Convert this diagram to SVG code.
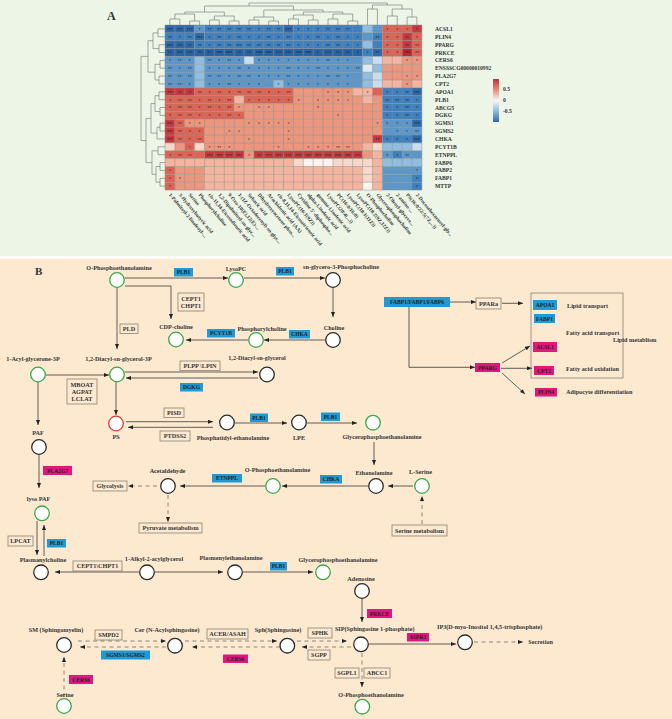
<svg xmlns="http://www.w3.org/2000/svg" width="672" height="719" viewBox="0 0 672 719">
<defs>
<marker id="ah" viewBox="0 0 10 8" refX="10" refY="4" markerWidth="5" markerHeight="4" markerUnits="userSpaceOnUse" orient="auto"><path d="M0,0 L10,4 L0,8 z" fill="#222"/></marker>
<linearGradient id="lg" x1="0" y1="0" x2="0" y2="1">
<stop offset="0" stop-color="#c2303a"/><stop offset="0.25" stop-color="#e88a74"/><stop offset="0.5" stop-color="#f8f6f4"/><stop offset="0.75" stop-color="#8dbade"/><stop offset="1" stop-color="#2e69a9"/>
</linearGradient>
</defs>
<style>
.lab{font-family:"Liberation Serif","DejaVu Serif",serif;font-weight:bold;font-size:6.2px;fill:#353535;text-anchor:middle}
.lft{text-anchor:start}
.et{font-family:"Liberation Serif","DejaVu Serif",serif;font-weight:bold;font-size:5.6px;fill:#222;text-anchor:middle}
.rl{font-family:"Liberation Serif","DejaVu Serif",serif;font-weight:bold;font-size:5.6px;fill:#333}
.cl{font-family:"Liberation Serif","DejaVu Serif",serif;font-weight:bold;font-size:5.2px;fill:#333}
.st{font-family:"Liberation Sans",Arial,sans-serif;font-size:5px;fill:#1a1a1a;fill-opacity:0.8;text-anchor:middle}
.ln{stroke:#3a3a3a;stroke-width:0.8;fill:none}
.dl{stroke:#707070;stroke-width:0.8;fill:none;stroke-dasharray:4 3.5}
.box{fill:none;stroke:#8a8075;stroke-width:0.8}
.bb{fill:#1e9bd7}
.pb{fill:#e2177e}
.ng{fill:#fff;stroke:#3aa84a;stroke-width:1.3}
.nk{fill:#fff;stroke:#2a2a2a;stroke-width:1.3}
.nr{fill:#fff;stroke:#e53a3a;stroke-width:1.3}
.dg{stroke:#707070;stroke-width:0.6;fill:none}
.DB{fill:#2e69a9}.B{fill:#3f80be}.MB{fill:#5d97c9}.LB{fill:#91bddf}.VLB{fill:#c8def0}
.W{fill:#fbf3f0}.VLR{fill:#f7d8cb}.LR{fill:#f3b59f}.S{fill:#eb967e}.R{fill:#dc6455}.DR{fill:#c63a3f}
</style>

<!-- backgrounds -->
<rect x="0" y="0" width="672" height="256" fill="#edf5e6"/>
<rect x="0" y="256" width="672" height="3" fill="#ffffff"/>
<rect x="0" y="259" width="672" height="460" fill="#fce9cf"/>

<!-- PANEL A -->
<g id="panelA">
<text x="107" y="20" font-family="Liberation Serif, serif" font-weight="bold" font-size="12" fill="#333">A</text>

<g id="heatmap" transform="translate(165,25) scale(9.88,7.86)">
<!-- row 0 -->
<rect class="DB" x="0" y="0" width="3" height="1"/><rect class="MB" x="3" y="0" width="1" height="1"/><rect class="B" x="4" y="0" width="8" height="1"/><rect class="DB" x="12" y="0" width="1" height="1"/><rect class="B" x="13" y="0" width="7" height="1"/><rect class="LB" x="20" y="0" width="1" height="1"/><rect class="MB" x="21" y="0" width="1" height="1"/><rect class="R" x="22" y="0" width="3" height="1"/><rect class="DR" x="25" y="0" width="1" height="1"/>
<!-- row 1 -->
<rect class="B" x="0" y="1" width="3" height="1"/><rect class="DB" x="3" y="1" width="1" height="1"/><rect class="B" x="4" y="1" width="16" height="1"/><rect class="MB" x="20" y="1" width="1" height="1"/><rect class="B" x="21" y="1" width="1" height="1"/><rect class="R" x="22" y="1" width="2" height="1"/><rect class="DR" x="24" y="1" width="1" height="1"/><rect class="R" x="25" y="1" width="1" height="1"/>
<!-- row 2 -->
<rect class="DB" x="0" y="2" width="3" height="1"/><rect class="B" x="3" y="2" width="17" height="1"/><rect class="LB" x="20" y="2" width="1" height="1"/><rect class="B" x="21" y="2" width="1" height="1"/><rect class="R" x="22" y="2" width="2" height="1"/><rect class="DR" x="24" y="2" width="1" height="1"/><rect class="R" x="25" y="2" width="1" height="1"/>
<!-- row 3 -->
<rect fill="#2a63a3" x="0" y="3" width="20" height="1"/><rect class="B" x="20" y="3" width="1" height="1"/><rect class="DB" x="21" y="3" width="1" height="1"/><rect class="R" x="22" y="3" width="2" height="1"/><rect fill="#b8282f" x="24" y="3" width="1" height="1"/><rect class="R" x="25" y="3" width="1" height="1"/>
<!-- row 4 -->
<rect class="MB" x="0" y="4" width="3" height="1"/><rect class="LB" x="3" y="4" width="1" height="1"/><rect class="MB" x="4" y="4" width="4" height="1"/><rect class="VLB" x="8" y="4" width="1" height="1"/><rect class="MB" x="9" y="4" width="11" height="1"/><rect class="LB" x="20" y="4" width="1" height="1"/><rect class="VLB" x="21" y="4" width="1" height="1"/><rect class="LR" x="22" y="4" width="2" height="1"/><rect class="S" x="24" y="4" width="2" height="1"/>
<!-- row 5 -->
<rect class="MB" x="0" y="5" width="3" height="1"/><rect class="LB" x="3" y="5" width="1" height="1"/><rect class="MB" x="4" y="5" width="16" height="1"/><rect fill="#dde9f3" x="20" y="5" width="1" height="1"/><rect class="LB" x="21" y="5" width="1" height="1"/><rect class="S" x="22" y="5" width="4" height="1"/>
<!-- row 6 -->
<rect class="MB" x="0" y="6" width="3" height="1"/><rect class="LB" x="3" y="6" width="1" height="1"/><rect class="MB" x="4" y="6" width="16" height="1"/><rect class="LB" x="20" y="6" width="1" height="1"/><rect class="VLB" x="21" y="6" width="1" height="1"/><rect class="S" x="22" y="6" width="4" height="1"/>
<!-- row 7 -->
<rect class="MB" x="0" y="7" width="3" height="1"/><rect class="LB" x="3" y="7" width="1" height="1"/><rect class="MB" x="4" y="7" width="7" height="1"/><rect class="LB" x="11" y="7" width="1" height="1"/><rect class="MB" x="12" y="7" width="8" height="1"/><rect class="LB" x="20" y="7" width="1" height="1"/><rect class="VLB" x="21" y="7" width="1" height="1"/><rect class="LR" x="22" y="7" width="2" height="1"/><rect class="S" x="24" y="7" width="1" height="1"/><rect class="LR" x="25" y="7" width="1" height="1"/>
<!-- row 8 -->
<rect class="DR" x="0" y="8" width="3" height="1"/><rect class="R" x="3" y="8" width="10" height="1"/><rect class="S" x="13" y="8" width="6" height="1"/><rect class="LR" x="19" y="8" width="2" height="1"/><rect class="R" x="21" y="8" width="1" height="1"/><rect class="B" x="22" y="8" width="3" height="1"/><rect class="DB" x="25" y="8" width="1" height="1"/>
<!-- row 9 -->
<rect class="R" x="0" y="9" width="7" height="1"/><rect class="LR" x="7" y="9" width="1" height="1"/><rect class="R" x="8" y="9" width="5" height="1"/><rect class="S" x="13" y="9" width="7" height="1"/><rect class="LR" x="20" y="9" width="1" height="1"/><rect class="S" x="21" y="9" width="1" height="1"/><rect class="B" x="22" y="9" width="4" height="1"/>
<!-- row 10 -->
<rect class="R" x="0" y="10" width="7" height="1"/><rect class="S" x="7" y="10" width="15" height="1"/><rect class="B" x="22" y="10" width="4" height="1"/>
<!-- row 11 -->
<rect class="R" x="0" y="11" width="8" height="1"/><rect class="S" x="8" y="11" width="14" height="1"/><rect class="B" x="22" y="11" width="4" height="1"/>
<!-- row 12 -->
<rect class="DR" x="0" y="12" width="1" height="1"/><rect class="R" x="1" y="12" width="1" height="1"/><rect class="S" x="2" y="12" width="20" height="1"/><rect class="MB" x="22" y="12" width="3" height="1"/><rect class="DB" x="25" y="12" width="1" height="1"/>
<!-- row 13 -->
<rect class="DR" x="0" y="13" width="1" height="1"/><rect class="R" x="1" y="13" width="3" height="1"/><rect class="S" x="4" y="13" width="18" height="1"/><rect class="MB" x="22" y="13" width="4" height="1"/>
<!-- row 14 -->
<rect class="DR" x="0" y="14" width="1" height="1"/><rect class="R" x="1" y="14" width="3" height="1"/><rect class="S" x="4" y="14" width="17" height="1"/><rect class="DR" x="21" y="14" width="1" height="1"/><rect class="B" x="22" y="14" width="3" height="1"/><rect class="DB" x="25" y="14" width="1" height="1"/>
<!-- row 15 -->
<rect class="VLR" x="0" y="15" width="1" height="1"/><rect class="S" x="1" y="15" width="1" height="1"/><rect class="R" x="2" y="15" width="1" height="1"/><rect class="VLR" x="3" y="15" width="1" height="1"/><rect class="S" x="4" y="15" width="16" height="1"/><rect class="LR" x="20" y="15" width="1" height="1"/><rect class="VLR" x="21" y="15" width="1" height="1"/><rect class="LB" x="22" y="15" width="3" height="1"/><rect class="VLB" x="25" y="15" width="1" height="1"/>
<!-- row 16 -->
<rect class="R" x="0" y="16" width="4" height="1"/><rect class="DR" x="4" y="16" width="4" height="1"/><rect class="S" x="8" y="16" width="1" height="1"/><rect class="DR" x="9" y="16" width="11" height="1"/><rect class="S" x="20" y="16" width="1" height="1"/><rect class="LR" x="21" y="16" width="1" height="1"/><rect class="MB" x="22" y="16" width="1" height="1"/><rect class="B" x="23" y="16" width="1" height="1"/><rect class="MB" x="24" y="16" width="2" height="1"/>
<!-- row 17 -->
<rect class="LR" x="0" y="17" width="13" height="1"/><rect class="VLR" x="13" y="17" width="1" height="1"/><rect class="W" x="14" y="17" width="3" height="1"/><rect class="VLR" x="17" y="17" width="4" height="1"/><rect class="LR" x="21" y="17" width="1" height="1"/><rect class="LB" x="22" y="17" width="4" height="1"/>
<!-- row 18 -->
<rect class="R" x="0" y="18" width="1" height="1"/><rect class="S" x="1" y="18" width="3" height="1"/><rect class="LR" x="4" y="18" width="16" height="1"/><rect class="VLR" x="20" y="18" width="1" height="1"/><rect class="LR" x="21" y="18" width="1" height="1"/><rect class="MB" x="22" y="18" width="4" height="1"/>
<!-- row 19 -->
<rect class="R" x="0" y="19" width="1" height="1"/><rect class="S" x="1" y="19" width="3" height="1"/><rect class="LR" x="4" y="19" width="16" height="1"/><rect class="VLR" x="20" y="19" width="1" height="1"/><rect class="LR" x="21" y="19" width="1" height="1"/><rect class="MB" x="22" y="19" width="3" height="1"/><rect class="B" x="25" y="19" width="1" height="1"/>
<!-- row 20 -->
<rect class="R" x="0" y="20" width="1" height="1"/><rect class="S" x="1" y="20" width="3" height="1"/><rect class="LR" x="4" y="20" width="16" height="1"/><rect class="W" x="20" y="20" width="1" height="1"/><rect class="LR" x="21" y="20" width="1" height="1"/><rect class="MB" x="22" y="20" width="3" height="1"/><rect class="B" x="25" y="20" width="1" height="1"/>
<path d="M0,0V21M1,0V21M2,0V21M3,0V21M4,0V21M5,0V21M6,0V21M7,0V21M8,0V21M9,0V21M10,0V21M11,0V21M12,0V21M13,0V21M14,0V21M15,0V21M16,0V21M17,0V21M18,0V21M19,0V21M20,0V21M21,0V21M22,0V21M23,0V21M24,0V21M25,0V21M26,0V21M0,0H26M0,1H26M0,2H26M0,3H26M0,4H26M0,5H26M0,6H26M0,7H26M0,8H26M0,9H26M0,10H26M0,11H26M0,12H26M0,13H26M0,14H26M0,15H26M0,16H26M0,17H26M0,18H26M0,19H26M0,20H26M0,21H26" stroke="#8f8f8f" stroke-width="0.5" fill="none" vector-effect="non-scaling-stroke"/>
</g>

<g id="stars">
<text class="st" y="31.8"><tspan x="169.9">***</tspan><tspan x="179.8">***</tspan><tspan x="189.7">***</tspan><tspan x="199.6">*</tspan><tspan x="209.5">**</tspan><tspan x="219.3">**</tspan><tspan x="229.2">**</tspan><tspan x="239.1">**</tspan><tspan x="249.0">**</tspan><tspan x="258.9">*</tspan><tspan x="268.7">**</tspan><tspan x="278.6">**</tspan><tspan x="288.5">***</tspan><tspan x="298.4">*</tspan><tspan x="308.3">*</tspan><tspan x="318.1">*</tspan><tspan x="328.0">**</tspan><tspan x="337.9">**</tspan><tspan x="347.8">**</tspan><tspan x="387.3">*</tspan><tspan x="397.2">*</tspan><tspan x="407.1">*</tspan><tspan x="416.9">*</tspan></text>
<text class="st" y="39.7"><tspan x="169.9">**</tspan><tspan x="179.8">*</tspan><tspan x="189.7">**</tspan><tspan x="199.6">***</tspan><tspan x="209.5">*</tspan><tspan x="219.3">**</tspan><tspan x="229.2">*</tspan><tspan x="239.1">**</tspan><tspan x="249.0">*</tspan><tspan x="258.9">*</tspan><tspan x="268.7">**</tspan><tspan x="278.6">*</tspan><tspan x="288.5">**</tspan><tspan x="298.4">*</tspan><tspan x="308.3">*</tspan><tspan x="318.1">**</tspan><tspan x="328.0">*</tspan><tspan x="337.9">**</tspan><tspan x="347.8">*</tspan><tspan x="357.7">*</tspan><tspan x="377.4">**</tspan><tspan x="387.3">*</tspan><tspan x="397.2">*</tspan><tspan x="407.1">**</tspan><tspan x="416.9">*</tspan></text>
<text class="st" y="47.6"><tspan x="169.9">***</tspan><tspan x="179.8">***</tspan><tspan x="189.7">**</tspan><tspan x="199.6">**</tspan><tspan x="209.5">*</tspan><tspan x="219.3">**</tspan><tspan x="229.2">**</tspan><tspan x="239.1">***</tspan><tspan x="249.0">**</tspan><tspan x="258.9">**</tspan><tspan x="268.7">**</tspan><tspan x="278.6">**</tspan><tspan x="288.5">**</tspan><tspan x="298.4">*</tspan><tspan x="308.3">*</tspan><tspan x="318.1">*</tspan><tspan x="328.0">**</tspan><tspan x="337.9">**</tspan><tspan x="347.8">*</tspan><tspan x="357.7">*</tspan><tspan x="387.3">*</tspan><tspan x="397.2">*</tspan><tspan x="407.1">**</tspan><tspan x="416.9">**</tspan></text>
<text class="st" y="55.4"><tspan x="169.9">**</tspan><tspan x="179.8">***</tspan><tspan x="189.7">***</tspan><tspan x="199.6">**</tspan><tspan x="209.5">**</tspan><tspan x="219.3">***</tspan><tspan x="229.2">***</tspan><tspan x="239.1">**</tspan><tspan x="249.0">**</tspan><tspan x="258.9">***</tspan><tspan x="268.7">***</tspan><tspan x="278.6">***</tspan><tspan x="288.5">***</tspan><tspan x="298.4">***</tspan><tspan x="308.3">***</tspan><tspan x="318.1">*</tspan><tspan x="328.0">***</tspan><tspan x="337.9">**</tspan><tspan x="347.8">**</tspan><tspan x="357.7">*</tspan><tspan x="367.5">*</tspan><tspan x="377.4">**</tspan><tspan x="387.3">*</tspan><tspan x="397.2">*</tspan><tspan x="407.1">***</tspan><tspan x="416.9">**</tspan></text>
<text class="st" y="63.3"><tspan x="169.9">*</tspan><tspan x="179.8">**</tspan><tspan x="189.7">*</tspan><tspan x="209.5">**</tspan><tspan x="219.3">*</tspan><tspan x="229.2">**</tspan><tspan x="239.1">*</tspan><tspan x="258.9">*</tspan><tspan x="268.7">*</tspan><tspan x="278.6">*</tspan><tspan x="288.5">*</tspan><tspan x="298.4">*</tspan><tspan x="308.3">*</tspan><tspan x="318.1">*</tspan><tspan x="328.0">**</tspan><tspan x="337.9">*</tspan><tspan x="347.8">*</tspan><tspan x="407.1">*</tspan><tspan x="416.9">*</tspan></text>
<text class="st" y="71.1"><tspan x="169.9">**</tspan><tspan x="179.8">*</tspan><tspan x="189.7">**</tspan><tspan x="209.5">*</tspan><tspan x="219.3">*</tspan><tspan x="229.2">*</tspan><tspan x="239.1">**</tspan><tspan x="249.0">*</tspan><tspan x="258.9">*</tspan><tspan x="268.7">*</tspan><tspan x="278.6">*</tspan><tspan x="288.5">**</tspan><tspan x="298.4">*</tspan><tspan x="308.3">*</tspan><tspan x="318.1">**</tspan><tspan x="328.0">*</tspan><tspan x="337.9">*</tspan><tspan x="347.8">*</tspan><tspan x="357.7">**</tspan></text>
<text class="st" y="79.0"><tspan x="169.9">**</tspan><tspan x="179.8">**</tspan><tspan x="189.7">**</tspan><tspan x="209.5">**</tspan><tspan x="219.3">**</tspan><tspan x="229.2">*</tspan><tspan x="239.1">**</tspan><tspan x="249.0">**</tspan><tspan x="258.9">*</tspan><tspan x="268.7">*</tspan><tspan x="278.6">*</tspan><tspan x="288.5">**</tspan><tspan x="298.4">*</tspan><tspan x="308.3">*</tspan><tspan x="318.1">*</tspan><tspan x="328.0">**</tspan><tspan x="337.9">**</tspan><tspan x="347.8">*</tspan><tspan x="407.1">*</tspan><tspan x="416.9">*</tspan></text>
<text class="st" y="86.8"><tspan x="169.9">**</tspan><tspan x="179.8">**</tspan><tspan x="189.7">*</tspan><tspan x="209.5">*</tspan><tspan x="219.3">*</tspan><tspan x="229.2">**</tspan><tspan x="239.1">*</tspan><tspan x="249.0">*</tspan><tspan x="258.9">*</tspan><tspan x="278.6">*</tspan><tspan x="288.5">*</tspan><tspan x="298.4">*</tspan><tspan x="308.3">*</tspan><tspan x="318.1">*</tspan><tspan x="328.0">*</tspan><tspan x="337.9">*</tspan><tspan x="347.8">*</tspan><tspan x="407.1">*</tspan></text>
<text class="st" y="94.7"><tspan x="169.9">***</tspan><tspan x="179.8">**</tspan><tspan x="189.7">**</tspan><tspan x="199.6">**</tspan><tspan x="209.5">*</tspan><tspan x="219.3">**</tspan><tspan x="229.2">*</tspan><tspan x="239.1">**</tspan><tspan x="249.0">**</tspan><tspan x="258.9">**</tspan><tspan x="268.7">*</tspan><tspan x="278.6">*</tspan><tspan x="288.5">**</tspan><tspan x="328.0">*</tspan><tspan x="337.9">*</tspan><tspan x="347.8">*</tspan><tspan x="367.5">*</tspan><tspan x="387.3">*</tspan><tspan x="397.2">*</tspan><tspan x="407.1">**</tspan><tspan x="416.9">***</tspan></text>
<text class="st" y="102.6"><tspan x="169.9">*</tspan><tspan x="179.8">**</tspan><tspan x="189.7">**</tspan><tspan x="199.6">*</tspan><tspan x="209.5">**</tspan><tspan x="219.3">*</tspan><tspan x="229.2">**</tspan><tspan x="249.0">*</tspan><tspan x="258.9">*</tspan><tspan x="268.7">*</tspan><tspan x="278.6">*</tspan><tspan x="288.5">*</tspan><tspan x="298.4">*</tspan><tspan x="318.1">*</tspan><tspan x="328.0">*</tspan><tspan x="337.9">*</tspan><tspan x="347.8">*</tspan><tspan x="387.3">**</tspan><tspan x="397.2">**</tspan><tspan x="407.1">**</tspan><tspan x="416.9">*</tspan></text>
<text class="st" y="110.4"><tspan x="169.9">*</tspan><tspan x="179.8">**</tspan><tspan x="189.7">**</tspan><tspan x="199.6">*</tspan><tspan x="209.5">**</tspan><tspan x="219.3">*</tspan><tspan x="229.2">**</tspan><tspan x="239.1">*</tspan><tspan x="258.9">*</tspan><tspan x="268.7">*</tspan><tspan x="318.1">*</tspan><tspan x="387.3">*</tspan><tspan x="397.2">*</tspan><tspan x="407.1">**</tspan><tspan x="416.9">*</tspan></text>
<text class="st" y="118.3"><tspan x="169.9">*</tspan><tspan x="179.8">**</tspan><tspan x="189.7">**</tspan><tspan x="199.6">*</tspan><tspan x="209.5">*</tspan><tspan x="219.3">*</tspan><tspan x="229.2">**</tspan><tspan x="239.1">*</tspan><tspan x="337.9">*</tspan><tspan x="387.3">*</tspan><tspan x="397.2">*</tspan><tspan x="407.1">**</tspan><tspan x="416.9">*</tspan></text>
<text class="st" y="126.1"><tspan x="169.9">***</tspan><tspan x="179.8">**</tspan><tspan x="189.7">*</tspan><tspan x="199.6">*</tspan><tspan x="249.0">*</tspan><tspan x="258.9">*</tspan><tspan x="268.7">*</tspan><tspan x="278.6">*</tspan><tspan x="288.5">*</tspan><tspan x="377.4">*</tspan><tspan x="387.3">*</tspan><tspan x="397.2">*</tspan><tspan x="407.1">*</tspan><tspan x="416.9">***</tspan></text>
<text class="st" y="134.0"><tspan x="169.9">***</tspan><tspan x="179.8">**</tspan><tspan x="189.7">*</tspan><tspan x="199.6">*</tspan><tspan x="229.2">*</tspan><tspan x="239.1">*</tspan><tspan x="288.5">*</tspan><tspan x="397.2">*</tspan><tspan x="407.1">*</tspan><tspan x="416.9">**</tspan></text>
<text class="st" y="141.9"><tspan x="169.9">***</tspan><tspan x="179.8">**</tspan><tspan x="189.7">*</tspan><tspan x="199.6">**</tspan><tspan x="249.0">*</tspan><tspan x="288.5">*</tspan><tspan x="377.4">**</tspan><tspan x="387.3">*</tspan><tspan x="397.2">*</tspan><tspan x="407.1">*</tspan><tspan x="416.9">***</tspan></text>
<text class="st" y="149.7"><tspan x="189.7">*</tspan><tspan x="209.5">*</tspan><tspan x="219.3">**</tspan><tspan x="229.2">*</tspan><tspan x="278.6">*</tspan><tspan x="308.3">*</tspan><tspan x="318.1">*</tspan><tspan x="328.0">*</tspan><tspan x="337.9">**</tspan><tspan x="347.8">**</tspan></text>
<text class="st" y="157.6"><tspan x="169.9">*</tspan><tspan x="179.8">**</tspan><tspan x="189.7">**</tspan><tspan x="209.5">***</tspan><tspan x="219.3">***</tspan><tspan x="229.2">***</tspan><tspan x="239.1">***</tspan><tspan x="249.0">*</tspan><tspan x="258.9">**</tspan><tspan x="268.7">***</tspan><tspan x="278.6">***</tspan><tspan x="288.5">***</tspan><tspan x="298.4">***</tspan><tspan x="308.3">***</tspan><tspan x="318.1">***</tspan><tspan x="328.0">***</tspan><tspan x="337.9">***</tspan><tspan x="347.8">***</tspan><tspan x="357.7">***</tspan><tspan x="387.3">*</tspan><tspan x="397.2">*</tspan><tspan x="407.1">**</tspan></text>
<text class="st" y="173.3"><tspan x="169.9">*</tspan><tspan x="416.9">*</tspan></text>
<text class="st" y="181.2"><tspan x="169.9">*</tspan><tspan x="179.8">*</tspan><tspan x="416.9">*</tspan></text>
<text class="st" y="189.0"><tspan x="169.9">*</tspan><tspan x="416.9">*</tspan></text>
</g>

<g id="dendro-top">
<path class="dg" d="M169.9,25V19H179.8V25M189.7,25V21H199.6V25M174.9,19V14H194.6V21M209.5,25V20H219.3V25M229.2,25V21H239.1V25M214.4,20V16H234.2V21M184.8,14V12H224.3V16M249.0,25V20H258.9V25M268.7,25V21H278.6V25M254.0,20V17H273.7V21M288.5,25V19H298.4V25M308.3,25V20H318.1V25M293.4,19V15H313.2V20M328.0,25V19H337.9V25M347.8,25V21H357.7V25M333.0,19V14H352.7V21M303.3,15V12H342.8V14M263.8,17V10H323.1V12M204.5,12V6H293.4V10M367.5,25V9H377.4V25M387.3,25V16H397.2V25M407.1,25V17H416.9V25M392.2,16V9H412.0V17M372.5,9V5H402.1V9M249.0,6V3H387.3V5"/>
</g>
<g id="dendro-left">
<path class="dg" d="M165,28.9H158V36.8H165M165,44.7H159V52.5H165M158,32.9H153V48.6H159M165,60.4H160V68.2H165M165,76.1H159V83.9H165M160,64.3H155V80.0H159M153,40.7H148V72.2H155M165,91.8H159V99.7H165M165,107.5H160V115.4H165M159,95.7H155V111.5H160M165,123.2H160V131.1H165M160,127.2H157V139.0H165M155,103.6H151V133.1H157M165,146.8H158V154.7H165M165,162.5H160V170.4H165M165,178.3H160V186.1H165M160,166.5H156V182.2H160M158,150.8H152V174.3H156M151,118.4H146V162.6H152M148,56.4H141V140.5H146"/>
</g>

<g id="row-labels">
<text class="rl" x="435" y="30.9">ACSL1</text>
<text class="rl" x="435" y="38.8">PLIN4</text>
<text class="rl" x="435" y="46.7">PPARG</text>
<text class="rl" x="435" y="54.5">PRKCE</text>
<text class="rl" x="435" y="62.4">CERS6</text>
<text class="rl" x="435" y="70.2">ENSSSCG00000010992</text>
<text class="rl" x="435" y="78.1">PLA2G7</text>
<text class="rl" x="435" y="85.9">CPT2</text>
<text class="rl" x="435" y="93.8">APOA1</text>
<text class="rl" x="435" y="101.7">PLB1</text>
<text class="rl" x="435" y="109.5">ABCG5</text>
<text class="rl" x="435" y="117.4">DGKG</text>
<text class="rl" x="435" y="125.2">SGMS1</text>
<text class="rl" x="435" y="133.1">SGMS2</text>
<text class="rl" x="435" y="141.0">CHKA</text>
<text class="rl" x="435" y="148.8">PCYT1B</text>
<text class="rl" x="435" y="156.7">ETNPPL</text>
<text class="rl" x="435" y="164.5">FABP6</text>
<text class="rl" x="435" y="172.4">FABP2</text>
<text class="rl" x="435" y="180.3">FABP1</text>
<text class="rl" x="435" y="188.1">MTTP</text>
</g>

<g id="col-labels">
<text class="cl" transform="translate(168.5,195) rotate(50)">1-Palmitoyl-2-linoleoyl-...</text>
<text class="cl" transform="translate(178.4,195) rotate(50)">3-Hydroxybutyric acid</text>
<text class="cl" transform="translate(188.3,195) rotate(50)">Serine</text>
<text class="cl" transform="translate(198.2,195) rotate(50)">Phosphorylcholine</text>
<text class="cl" transform="translate(208.1,195) rotate(50)">cis-11,14-Eicosadienoic acid</text>
<text class="cl" transform="translate(217.9,195) rotate(50)">1,2-Dipalmitoyl-sn-glyc...</text>
<text class="cl" transform="translate(227.8,195) rotate(50)">9-Oxo-10(E),12(E)-...</text>
<text class="cl" transform="translate(237.7,195) rotate(50)">1-(1Z-Octadecenyl)-sn-glyc...</text>
<text class="cl" transform="translate(247.6,195) rotate(50)">Sebacic acid</text>
<text class="cl" transform="translate(257.5,195) rotate(50)">Dihydroxyacetone phos...</text>
<text class="cl" transform="translate(267.3,195) rotate(50)">Arachidonic acid (AA)</text>
<text class="cl" transform="translate(277.2,195) rotate(50)">cis-8,11,14-Eicosatrienoic acid</text>
<text class="cl" transform="translate(287.1,195) rotate(50)">LysoPC(16:1(9Z))</text>
<text class="cl" transform="translate(297.0,195) rotate(50)">Cytidine 5'-diphospho...</text>
<text class="cl" transform="translate(306.9,195) rotate(50)">alpha-Linolenic acid</text>
<text class="cl" transform="translate(316.7,195) rotate(50)">gamma-Linolenic acid</text>
<text class="cl" transform="translate(326.6,195) rotate(50)">LysoPC(20:4(...))</text>
<text class="cl" transform="translate(336.5,195) rotate(50)">PC(16:0/16:0)</text>
<text class="cl" transform="translate(346.4,195) rotate(50)">LysoPC(18:1(11Z))</text>
<text class="cl" transform="translate(356.3,195) rotate(50)">LysoPC(18:2(9Z,12Z))</text>
<text class="cl" transform="translate(366.1,195) rotate(50)">O-Phosphocholine</text>
<text class="cl" transform="translate(376.0,195) rotate(50)">Glycerophosphocholine</text>
<text class="cl" transform="translate(385.9,195) rotate(50)">2-Oleoyl-glycero...</text>
<text class="cl" transform="translate(395.8,195) rotate(50)">2-amino-...</text>
<text class="cl" transform="translate(405.7,195) rotate(50)">PS(16:0/22:5(7Z,...))</text>
<text class="cl" transform="translate(415.5,195) rotate(50)">2-Docosahexaenoyl-gly...</text>
</g>

<g id="legend">
<rect x="493" y="79" width="6" height="43" fill="url(#lg)"/>
<text class="rl" x="503" y="91">0.5</text>
<text class="rl" x="503" y="102">0</text>
<text class="rl" x="503" y="113">-0.5</text>
</g>
</g>

<!-- PANEL B -->
<text x="35" y="274.5" font-family="Liberation Serif, serif" font-weight="bold" font-size="11" fill="#333">B</text>

<g id="connectors">
<path class="ln" d="M125,278H228" marker-end="url(#ah)"/>
<path class="ln" d="M244,278H325" marker-end="url(#ah)"/>
<path class="ln" d="M125,286H171V319" marker-end="url(#ah)"/>
<path class="ln" d="M117,288V349" marker-end="url(#ah)"/>
<path class="ln" d="M333,288V317" marker-end="url(#ah)"/>
<path class="ln" d="M325,340H264" marker-end="url(#ah)"/>
<path class="ln" d="M248,340H186" marker-end="url(#ah)"/>
<path class="ln" d="M46,375H109" marker-end="url(#ah)"/>
<path class="ln" d="M125,372H258" marker-end="url(#ah)"/>
<path class="ln" d="M258,378H126" marker-end="url(#ah)"/>
<path class="ln" d="M38,382V425" marker-end="url(#ah)"/>
<path class="ln" d="M116,382V415" marker-end="url(#ah)"/>
<path class="ln" d="M126,421.7H213" marker-end="url(#ah)"/>
<path class="ln" d="M213,427.3H128" marker-end="url(#ah)"/>
<path class="ln" d="M235,423H287" marker-end="url(#ah)"/>
<path class="ln" d="M307,423H357" marker-end="url(#ah)"/>
<path class="ln" d="M374,442V465" marker-end="url(#ah)"/>
<path class="ln" d="M413,486H388" marker-end="url(#ah)"/>
<path class="dl" d="M422,524V496" marker-end="url(#ah)"/>
<path class="ln" d="M368,486H282" marker-end="url(#ah)"/>
<path class="ln" d="M265,486H180" marker-end="url(#ah)"/>
<path class="dl" d="M157,486H128" marker-end="url(#ah)"/>
<path class="dl" d="M168,495V522" marker-end="url(#ah)"/>
<path class="ln" d="M39,455V488" marker-end="url(#ah)"/>
<path class="ln" d="M37,521V555" marker-end="url(#ah)"/>
<path class="ln" d="M44,556V525" marker-end="url(#ah)"/>
<path class="ln" d="M139,572H55" marker-end="url(#ah)"/>
<path class="ln" d="M155,572H223" marker-end="url(#ah)"/>
<path class="ln" d="M243,572H313" marker-end="url(#ah)"/>
<path class="ln" d="M362,599V622" marker-end="url(#ah)"/>
<path class="ln" d="M369,644H456" marker-end="url(#ah)"/>
<path class="dl" d="M474,642H523" marker-end="url(#ah)"/>
<path class="dl" d="M362,653V687" marker-end="url(#ah)"/>
<path class="dl" d="M78,641H166" marker-end="url(#ah)"/>
<path class="dl" d="M166,647H80" marker-end="url(#ah)"/>
<path class="dl" d="M185,641H277" marker-end="url(#ah)"/>
<path class="dl" d="M280,647H192" marker-end="url(#ah)"/>
<path class="dl" d="M297,641H347" marker-end="url(#ah)"/>
<path class="dl" d="M351,647H302" marker-end="url(#ah)"/>
<path class="dl" d="M64,697V657" marker-end="url(#ah)"/>
<path class="ln" d="M450,302H476" marker-end="url(#ah)"/>
<path class="ln" d="M502,303.3H523" marker-end="url(#ah)"/>
<path class="ln" d="M409,307V367.3H475" marker-end="url(#ah)"/>
<path class="ln" d="M502,363L530,346" marker-end="url(#ah)"/>
<path class="ln" d="M501,368.3H532" marker-end="url(#ah)"/>
<path class="ln" d="M502,373L525,394" marker-end="url(#ah)"/>
</g>

<!-- nodes -->
<g id="n-ophos-top"><circle class="ng" cx="117" cy="280" r="7.3"/><text class="lab" x="119" y="270">O-Phosphoethanolamine</text></g>
<g id="n-lysopc"><circle class="ng" cx="236" cy="280" r="7.3"/><text class="lab" x="236" y="270.5">LysoPC</text></g>
<g id="n-snglycero"><circle class="nk" cx="333" cy="280" r="7.3"/><text class="lab" x="341" y="269">sn-glycero-3-Phosphocholine</text></g>
<g id="n-cdpcholine"><circle class="ng" cx="176" cy="339.5" r="7.3"/><text class="lab" x="176" y="329">CDP-choline</text></g>
<g id="n-phosphorylcholine"><circle class="ng" cx="256" cy="340" r="7.3"/><text class="lab" x="262" y="330.5">Phosphorylcholine</text></g>
<g id="n-choline"><circle class="nk" cx="333" cy="340" r="7.3"/><text class="lab" x="334" y="330">Choline</text></g>
<g id="n-acylglycerone"><circle class="ng" cx="38" cy="374.5" r="7.3"/><text class="lab" x="33" y="360.5">1-Acyl-glycerone-3P</text></g>
<g id="n-dag3p"><circle class="ng" cx="117" cy="374.5" r="7.3"/><text class="lab" x="118.5" y="360.5">1,2-Diacyl-sn-glycerol-3P</text></g>
<g id="n-dag"><circle class="nk" cx="267" cy="374.5" r="7.3"/><text class="lab" x="257" y="360">1,2-Diacyl-sn-glycerol</text></g>
<g id="n-ps"><circle class="nr" cx="116" cy="423.5" r="7.3"/><text class="lab" x="116" y="439">PS</text></g>
<g id="n-pe"><circle class="nk" cx="227" cy="422.5" r="7.3"/><text class="lab" x="233" y="440">Phosphatidyl-ethanolamine</text></g>
<g id="n-lpe"><circle class="nk" cx="299" cy="422.5" r="7.3"/><text class="lab" x="299" y="440">LPE</text></g>
<g id="n-gpe-mid"><circle class="ng" cx="373" cy="422.7" r="7.3"/><text class="lab" x="382" y="439">Glycerophosphoethanolamine</text></g>
<g id="n-paf"><circle class="nk" cx="39" cy="447" r="7.3"/><text class="lab" x="38" y="434.5">PAF</text></g>
<g id="n-ethanolamine"><circle class="nk" cx="376" cy="486" r="7.3"/><text class="lab" x="374" y="475">Ethanolamine</text></g>
<g id="n-lserine"><circle class="ng" cx="422" cy="486" r="7.3"/><text class="lab" x="420.5" y="474">L-Serine</text></g>
<g id="n-ophos-mid"><circle class="ng" cx="273" cy="486" r="7.3"/><text class="lab" x="277.5" y="472">O-Phosphoethanolamine</text></g>
<g id="n-acetaldehyde"><circle class="nk" cx="168" cy="486" r="7.3"/><text class="lab" x="167.5" y="473">Acetaldehyde</text></g>
<g id="n-lysopaf"><circle class="ng" cx="42" cy="513.3" r="7.3"/><text class="lab" x="38.5" y="500.5">lyso PAF</text></g>
<g id="n-plasmanylcholine"><circle class="nk" cx="41" cy="572.3" r="7.3"/><text class="lab" x="43" y="561.5">Plasmanylcholine</text></g>
<g id="n-alkylacylglycerol"><circle class="nk" cx="147" cy="572.3" r="7.3"/><text class="lab" x="154" y="561">1-Alkyl-2-acylglycerol</text></g>
<g id="n-plasmenylethanolamine"><circle class="nk" cx="235" cy="572.3" r="7.3"/><text class="lab" x="231" y="560">Plasmenylethanolamine</text></g>
<g id="n-gpe-low"><circle class="ng" cx="323" cy="572.3" r="7.3"/><text class="lab" x="338" y="562">Glycerophosphoethanolamine</text></g>
<g id="n-adenosine"><circle class="nk" cx="362" cy="591" r="7.3"/><text class="lab" x="361" y="581">Adenosine</text></g>
<g id="n-sip"><circle class="nk" cx="361" cy="644.3" r="7.3"/><text class="lab" x="374.7" y="630.5">SIP(Sphingosine 1-phosphate)</text></g>
<g id="n-ip3"><circle class="nk" cx="465" cy="642.3" r="7.3"/><text class="lab" x="489.7" y="629">IP3(D-myo-Inositol 1,4,5-trisphosphate)</text></g>
<g id="n-secretion"><text class="lab lft" x="528.3" y="643.5">Secretion</text></g>
<g id="n-ophos-low"><circle class="ng" cx="362.3" cy="706.7" r="7.3"/><text class="lab" x="371" y="696.5">O-Phosphoethanolamine</text></g>
<g id="n-sm"><circle class="nk" cx="64" cy="645" r="7.3"/><text class="lab" x="56" y="632">SM (Sphingomyelin)</text></g>
<g id="n-cer"><circle class="nk" cx="175" cy="645.7" r="7.3"/><text class="lab" x="167" y="632">Cer (N-Acylsphingosine)</text></g>
<g id="n-sph"><circle class="nk" cx="287.3" cy="645.7" r="7.3"/><text class="lab" x="278" y="631.5">Sph(Sphingosine)</text></g>
<g id="n-serine"><circle class="ng" cx="64" cy="706" r="7.3"/><text class="lab" x="65" y="696.5">Serine</text></g>

<!-- enzyme boxes: blue -->
<g id="e-plb1-a"><rect class="bb" x="174" y="268" width="19" height="8.5"/><text class="et" x="183.5" y="274.3">PLB1</text></g>
<g id="e-plb1-b"><rect class="bb" x="276" y="267" width="18" height="8.5"/><text class="et" x="285" y="273.3">PLB1</text></g>
<g id="e-pcyt1b"><rect class="bb" x="207" y="329" width="28" height="8.5"/><text class="et" x="221" y="335.3">PCYT1B</text></g>
<g id="e-chka-a"><rect class="bb" x="289" y="330" width="21" height="8.5"/><text class="et" x="299.5" y="336.3">CHKA</text></g>
<g id="e-dgkg"><rect class="bb" x="180" y="383" width="23" height="8.5"/><text class="et" x="191.5" y="389.3">DGKG</text></g>
<g id="e-plb1-c"><rect class="bb" x="250" y="413.5" width="18" height="8.5"/><text class="et" x="259" y="419.8">PLB1</text></g>
<g id="e-plb1-d"><rect class="bb" x="321" y="412.5" width="19" height="8.5"/><text class="et" x="330.5" y="418.8">PLB1</text></g>
<g id="e-chka-b"><rect class="bb" x="320" y="475" width="22" height="8.5"/><text class="et" x="331" y="481.3">CHKA</text></g>
<g id="e-etnppl"><rect class="bb" x="212" y="474" width="30" height="8.5"/><text class="et" x="227" y="480.3">ETNPPL</text></g>
<g id="e-plb1-e"><rect class="bb" x="47" y="539" width="19" height="8.5"/><text class="et" x="56.5" y="545.3">PLB1</text></g>
<g id="e-plb1-f"><rect class="bb" x="270" y="562" width="17" height="8.5"/><text class="et" x="278.5" y="568.3">PLB1</text></g>
<g id="e-sgms"><rect class="bb" x="101" y="650.5" width="49" height="9"/><text class="et" x="125.5" y="657">SGMS1/SGMS2</text></g>
<g id="e-fabp"><rect class="bb" x="384" y="297" width="66" height="10"/><text class="et" x="417" y="304">FABP1/FABP1/FABP6</text></g>
<g id="e-apoa1"><rect class="bb" x="533" y="300" width="24" height="10"/><text class="et" x="545" y="307">APOA1</text></g>
<g id="e-fabp1"><rect class="bb" x="534" y="314" width="21" height="9"/><text class="et" x="544.5" y="320.5">FABP1</text></g>

<!-- enzyme boxes: pink -->
<g id="e-pla2g7"><rect class="pb" x="43" y="466" width="29" height="9"/><text class="et" x="57.5" y="472.5">PLA2G7</text></g>
<g id="e-prkce"><rect class="pb" x="367" y="609" width="25" height="9"/><text class="et" x="379.5" y="615.5">PRKCE</text></g>
<g id="e-s1pr3"><rect class="pb" x="407" y="633" width="22" height="8.5"/><text class="et" x="418" y="639.3">S1PR3</text></g>
<g id="e-cers6-a"><rect class="pb" x="223" y="654.5" width="25" height="8.5"/><text class="et" x="235.5" y="660.8">CERS6</text></g>
<g id="e-cers6-b"><rect class="pb" x="69" y="675" width="24" height="9"/><text class="et" x="81" y="681.5">CERS6</text></g>
<g id="e-acsl1"><rect class="pb" x="533" y="342" width="24" height="10"/><text class="et" x="545" y="349">ACSL1</text></g>
<g id="e-cpt2"><rect class="pb" x="534" y="366" width="20" height="9"/><text class="et" x="544" y="372.5">CPT2</text></g>
<g id="e-plin4"><rect class="pb" x="535" y="388" width="22" height="8.5"/><text class="et" x="546" y="394.3">PLIN4</text></g>
<g id="e-pparg"><rect class="pb" x="475" y="363" width="25" height="9"/><text class="et" x="487.5" y="369.5">PPARG</text></g>

<!-- plain boxes -->
<g id="e-cept1-chpt1"><rect class="box" x="178" y="293" width="26" height="18"/><text class="lab" x="191" y="300.5">CEPT1</text><text class="lab" x="191" y="308">CHPT1</text></g>
<g id="e-pld"><rect class="box" x="120" y="324" width="18" height="9.5"/><text class="lab" x="129" y="331">PLD</text></g>
<g id="e-plpp"><rect class="box" x="180" y="361" width="40" height="9.5"/><text class="lab" x="200" y="368">PLPP \LPIN</text></g>
<g id="e-mboat"><rect class="box" x="67" y="379" width="30" height="25"/><text class="lab" x="82" y="386.5">MBOAT</text><text class="lab" x="82" y="393.5">AGPAT</text><text class="lab" x="82" y="400.5">LCLAT</text></g>
<g id="e-pisd"><rect class="box" x="164" y="408" width="20" height="9.5"/><text class="lab" x="174" y="415">PISD</text></g>
<g id="e-ptdss2"><rect class="box" x="160" y="431" width="30" height="10"/><text class="lab" x="175" y="438.2">PTDSS2</text></g>
<g id="b-glycolysis"><rect class="box" x="93" y="481" width="34" height="10"/><text class="lab" x="110" y="488.2">Glycolysis</text></g>
<g id="b-pyruvate"><rect class="box" x="139" y="523" width="63" height="10"/><text class="lab" x="170.5" y="530.2">Pyruvate metabolism</text></g>
<g id="b-serine-met"><rect class="box" x="392" y="525" width="55" height="11"/><text class="lab" x="419.5" y="532.7">Serine metabolism</text></g>
<g id="e-lpcat"><rect class="box" x="8" y="536" width="25" height="10"/><text class="lab" x="20.5" y="543.2">LPCAT</text></g>
<g id="e-cept1-chpt1-b"><rect class="box" x="73" y="561" width="49" height="10"/><text class="lab" x="97.5" y="568.2">CEPT1\CHPT1</text></g>
<g id="e-smpd2"><rect class="box" x="95" y="630" width="27" height="10"/><text class="lab" x="108.5" y="637.2">SMPD2</text></g>
<g id="e-acer"><rect class="box" x="207" y="629" width="41" height="10"/><text class="lab" x="227.5" y="636.2">ACER/ASAH</text></g>
<g id="e-sphk"><rect class="box" x="308" y="628" width="24" height="10"/><text class="lab" x="320" y="635.2">SPHK</text></g>
<g id="e-sgpp"><rect class="box" x="308" y="650" width="22" height="10"/><text class="lab" x="319" y="657.2">SGPP</text></g>
<g id="e-sgpl1"><rect class="box" x="335" y="668" width="24" height="10"/><text class="lab" x="347" y="675.2">SGPL1</text></g>
<g id="e-abcc1"><rect class="box" x="364" y="668" width="26" height="10"/><text class="lab" x="377" y="675.2">ABCC1</text></g>
<g id="e-ppara"><rect class="box" x="476" y="298" width="25" height="11"/><text class="lab" x="488.5" y="305.7">PPARa</text></g>

<g id="lipid-metabolism">
<rect class="box" x="531" y="293" width="92" height="85"/>
<text class="lab lft" x="567" y="308">Lipid transport</text>
<text class="lab lft" x="566" y="335">Fatty acid transport</text>
<text class="lab lft" x="613" y="342">Lipid metablism</text>
<text class="lab lft" x="566" y="370.5">Fatty acid oxidation</text>
<text class="lab lft" x="566" y="394">Adipocyte differentiation</text>
</g>
</svg>
